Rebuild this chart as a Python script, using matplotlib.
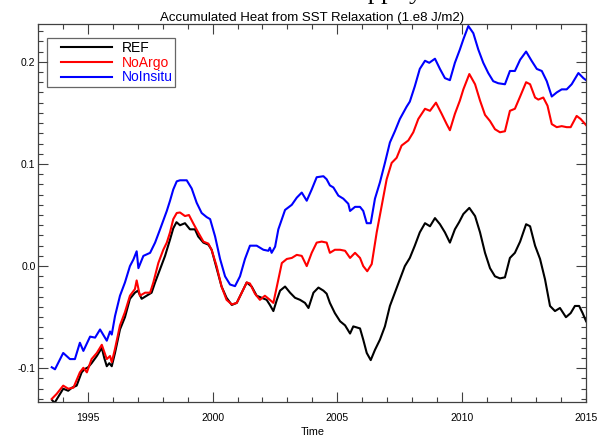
import numpy as np
import matplotlib
matplotlib.use("Agg")
import matplotlib.pyplot as plt
from matplotlib.lines import Line2D
from matplotlib.legend_handler import HandlerLine2D

# ── Data (year, 1.e8 J/m2) ───────────────────────────────────────────────────

ref_t = [1993.55, 1993.65, 1993.8, 1994.0, 1994.2, 1994.35, 1994.54, 1994.74, 1994.85, 1995.0,
         1995.14, 1995.35, 1995.55, 1995.65, 1995.75, 1995.85, 1995.95, 1996.08, 1996.28, 1996.48,
         1996.68, 1996.88, 1997.0, 1997.15, 1997.35, 1997.55, 1997.69, 1997.89, 1998.09, 1998.29,
         1998.42, 1998.55, 1998.69, 1998.89, 1999.09, 1999.29, 1999.42, 1999.63, 1999.83, 1999.96,
         2000.16, 2000.36, 2000.56, 2000.77, 2000.97, 2001.17, 2001.37, 2001.57, 2001.77, 2001.97,
         2002.17, 2002.30, 2002.44, 2002.58, 2002.71, 2002.91, 2003.11, 2003.31, 2003.51, 2003.71,
         2003.85, 2004.05, 2004.25, 2004.45, 2004.58, 2004.71, 2004.91, 2005.12, 2005.32, 2005.52,
         2005.65, 2005.92, 2006.05, 2006.19, 2006.35, 2006.52, 2006.72, 2006.92, 2007.12, 2007.32,
         2007.52, 2007.72, 2007.92, 2008.12, 2008.32, 2008.53, 2008.73, 2008.93, 2009.13, 2009.33,
         2009.53, 2009.73, 2009.90, 2010.07, 2010.31, 2010.54, 2010.74, 2010.94, 2011.14, 2011.34,
         2011.54, 2011.74, 2011.94, 2012.14, 2012.35, 2012.59, 2012.75, 2012.95, 2013.15, 2013.35,
         2013.55, 2013.75, 2013.95, 2014.19, 2014.38, 2014.55, 2014.72, 2014.86, 2015.0]
ref_v = [-0.131, -0.134, -0.128, -0.120, -0.122, -0.119, -0.117, -0.104, -0.101, -0.099,
         -0.095, -0.088, -0.080, -0.090, -0.098, -0.095, -0.098, -0.085, -0.062, -0.050,
         -0.032, -0.026, -0.024, -0.032, -0.029, -0.026, -0.016, -0.003, 0.010, 0.026,
         0.037, 0.043, 0.040, 0.042, 0.036, 0.036, 0.029, 0.023, 0.021, 0.016,
         -0.002, -0.020, -0.031, -0.038, -0.036, -0.026, -0.016, -0.020, -0.029, -0.031,
         -0.033, -0.038, -0.044, -0.033, -0.024, -0.020, -0.026, -0.031, -0.033, -0.036,
         -0.041, -0.026, -0.021, -0.024, -0.027, -0.036, -0.046, -0.054, -0.058, -0.066,
         -0.059, -0.061, -0.072, -0.085, -0.092, -0.082, -0.072, -0.059, -0.039, -0.026,
         -0.013, 0.000, 0.008, 0.020, 0.033, 0.042, 0.039, 0.047, 0.041, 0.033,
         0.023, 0.036, 0.043, 0.051, 0.057, 0.049, 0.033, 0.013, -0.002, -0.010,
         -0.012, -0.011, 0.008, 0.013, 0.024, 0.041, 0.039, 0.020, 0.007, -0.013,
         -0.039, -0.044, -0.041, -0.050, -0.046, -0.039, -0.039, -0.046, -0.054]

noargo_t = [1993.54, 1993.74, 1994.0, 1994.2, 1994.41, 1994.67, 1994.81, 1994.95, 1995.14, 1995.35,
            1995.55, 1995.75, 1995.88, 1995.95, 1996.08, 1996.28, 1996.48, 1996.68, 1996.88, 1996.95,
            1997.08, 1997.29, 1997.49, 1997.62, 1997.82, 1998.02, 1998.16, 1998.29, 1998.42, 1998.56,
            1998.69, 1998.89, 1999.05, 1999.22, 1999.42, 1999.63, 1999.83, 1999.96, 2000.16, 2000.36,
            2000.56, 2000.77, 2000.97, 2001.17, 2001.37, 2001.50, 2001.70, 2001.90, 2002.10, 2002.30,
            2002.44, 2002.58, 2002.78, 2002.98, 2003.18, 2003.38, 2003.58, 2003.78, 2003.98, 2004.18,
            2004.38, 2004.58, 2004.71, 2004.91, 2005.12, 2005.32, 2005.52, 2005.72, 2005.92, 2006.05,
            2006.21, 2006.39, 2006.59, 2006.79, 2006.99, 2007.19, 2007.39, 2007.59, 2007.86, 2008.06,
            2008.26, 2008.53, 2008.73, 2008.97, 2009.20, 2009.40, 2009.53, 2009.73, 2009.93, 2010.07,
            2010.31, 2010.54, 2010.74, 2010.94, 2011.14, 2011.34, 2011.54, 2011.74, 2011.94, 2012.14,
            2012.35, 2012.59, 2012.75, 2012.95, 2013.08, 2013.28, 2013.45, 2013.62, 2013.82, 2014.02,
            2014.22, 2014.38, 2014.62, 2014.78, 2015.0]
noargo_v = [-0.130, -0.125, -0.117, -0.120, -0.119, -0.104, -0.0995, -0.104, -0.091, -0.085,
            -0.077, -0.091, -0.088, -0.094, -0.081, -0.058, -0.045, -0.029, -0.0225, -0.014,
            -0.029, -0.026, -0.026, -0.016, 0.003, 0.016, 0.023, 0.033, 0.046, 0.052,
            0.0525, 0.049, 0.050, 0.042, 0.033, 0.024, 0.022, 0.016, 0.000, -0.020,
            -0.033, -0.0375, -0.036, -0.026, -0.016, -0.017, -0.027, -0.033, -0.029, -0.033,
            -0.036, -0.020, 0.003, 0.007, 0.008, 0.011, 0.010, 0.000, 0.013, 0.023,
            0.024, 0.023, 0.013, 0.016, 0.016, 0.015, 0.008, 0.013, 0.008, 0.000,
            -0.005, 0.002, 0.033, 0.059, 0.085, 0.101, 0.106, 0.118, 0.123, 0.131,
            0.144, 0.154, 0.152, 0.160, 0.149, 0.139, 0.133, 0.149, 0.162, 0.173,
            0.188, 0.178, 0.162, 0.148, 0.142, 0.134, 0.131, 0.132, 0.152, 0.154,
            0.166, 0.180, 0.178, 0.165, 0.163, 0.165, 0.157, 0.139, 0.136, 0.137,
            0.136, 0.136, 0.147, 0.144, 0.138]

noinsitu_t = [1993.54, 1993.67, 1994.0, 1994.27, 1994.47, 1994.67, 1994.81, 1995.08, 1995.28, 1995.48,
              1995.75, 1995.88, 1995.95, 1996.08, 1996.28, 1996.48, 1996.68, 1996.82, 1996.95, 1997.02,
              1997.22, 1997.49, 1997.69, 1997.89, 1998.16, 1998.29, 1998.42, 1998.56, 1998.69, 1998.96,
              1999.16, 1999.36, 1999.56, 1999.76, 1999.90, 2000.10, 2000.30, 2000.50, 2000.70, 2000.90,
              2001.10, 2001.30, 2001.50, 2001.77, 2002.04, 2002.24, 2002.30, 2002.37, 2002.51, 2002.64,
              2002.91, 2003.18, 2003.38, 2003.58, 2003.78, 2003.98, 2004.18, 2004.45, 2004.58, 2004.71,
              2004.85, 2005.05, 2005.25, 2005.45, 2005.52, 2005.72, 2005.92, 2006.05, 2006.19, 2006.35,
              2006.52, 2006.72, 2006.92, 2007.12, 2007.32, 2007.52, 2007.79, 2007.92, 2008.12, 2008.32,
              2008.53, 2008.70, 2008.93, 2009.13, 2009.33, 2009.53, 2009.73, 2009.93, 2010.07, 2010.27,
              2010.47, 2010.67, 2010.87, 2011.07, 2011.27, 2011.47, 2011.74, 2011.94, 2012.14, 2012.35,
              2012.59, 2012.81, 2013.02, 2013.22, 2013.42, 2013.62, 2013.82, 2014.02, 2014.22, 2014.42,
              2014.69, 2014.89, 2015.0]
noinsitu_v = [-0.099, -0.101, -0.085, -0.091, -0.091, -0.075, -0.083, -0.069, -0.070, -0.062,
              -0.073, -0.064, -0.067, -0.049, -0.029, -0.016, 0.000, 0.0065, 0.0145, -0.002,
              0.010, 0.013, 0.023, 0.036, 0.054, 0.064, 0.075, 0.083, 0.084, 0.084,
              0.076, 0.062, 0.052, 0.048, 0.046, 0.029, 0.007, -0.010, -0.018, -0.0196,
              -0.010, 0.007, 0.020, 0.020, 0.016, 0.015, 0.018, 0.013, 0.019, 0.036,
              0.055, 0.060, 0.067, 0.072, 0.064, 0.075, 0.087, 0.088, 0.085, 0.079,
              0.077, 0.069, 0.066, 0.061, 0.054, 0.058, 0.058, 0.054, 0.042, 0.042,
              0.066, 0.082, 0.101, 0.121, 0.132, 0.144, 0.156, 0.161, 0.176, 0.193,
              0.201, 0.199, 0.203, 0.193, 0.184, 0.182, 0.199, 0.212, 0.222, 0.235,
              0.228, 0.212, 0.199, 0.189, 0.181, 0.179, 0.178, 0.191, 0.191, 0.202,
              0.210, 0.201, 0.193, 0.191, 0.181, 0.166, 0.170, 0.173, 0.173, 0.178,
              0.189, 0.184, 0.182]

series = [("REF", ref_t, ref_v, "black"),
          ("NoArgo", noargo_t, noargo_v, "red"),
          ("NoInsitu", noinsitu_t, noinsitu_v, "blue")]

# ── Plot ──────────────────────────────────────────────────────────────────────

plt.rcParams["font.family"] = ["Liberation Sans", "DejaVu Sans"]
plt.rcParams["axes.unicode_minus"] = False

fig = plt.figure(figsize=(6.08, 4.36), dpi=100)
ax = fig.add_axes([0.063, 0.078, 0.901, 0.867])

for name, t, v, col in series:
    ax.plot(t, v, color=col, linewidth=1.5, label=name)

ax.set_xlim(1993.0, 2015.0)
ax.set_ylim(-0.133, 0.237)
ax.set_xticks([1995, 2000, 2005, 2010, 2015])
ax.set_xticks(np.arange(1993, 2016, 1), minor=True)
ax.set_yticks([-0.1, 0.0, 0.1, 0.2])
ax.set_yticks(np.arange(-0.13, 0.24, 0.01), minor=True)
ax.yaxis.set_major_formatter(matplotlib.ticker.FormatStrFormatter("%.1f"))

frame_col = "#404040"
for sp in ax.spines.values():
    sp.set_color(frame_col)
    sp.set_linewidth(0.9)
ax.tick_params(which="both", direction="in", top=True, right=True, color=frame_col, width=0.8)
ax.tick_params(which="major", length=7)
ax.tick_params(which="minor", length=3.5)
ax.tick_params(axis="x", which="major", pad=8, labelsize=7.5)
ax.tick_params(axis="y", which="major", pad=2, labelsize=7.5)

ax.set_title("Accumulated Heat from SST Relaxation (1.e8 J/m2)", fontsize=9.5, pad=1)
ax.set_xlabel("Time", fontsize=7.8, labelpad=3)

leg = ax.legend(loc="upper left", bbox_to_anchor=(0.0153, 0.963), fontsize=10,
                handlelength=4.5, handletextpad=0.7, labelcolor="linecolor",
                handler_map={Line2D: HandlerLine2D(xpad=0.8)},
                fancybox=False, frameon=True, borderpad=0.2, labelspacing=0.06,
                borderaxespad=0)
leg.get_frame().set_edgecolor("#404040")
leg.get_frame().set_linewidth(0.9)

# descenders of a line of document text cut off at the top edge
fig.text(0.566, 1.0 + 1.0 / 436, "happily", family="Liberation Serif", fontsize=19,
         va="baseline", ha="left")

fig.savefig("out.png", dpi=100)
